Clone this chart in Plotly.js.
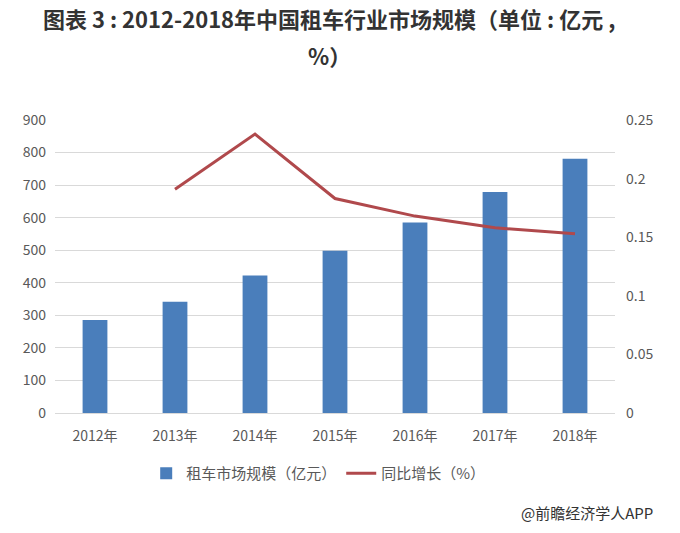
<!DOCTYPE html>
<html>
<head>
<meta charset="utf-8">
<script src="https://cdn.plot.ly/plotly-3.0.1.min.js"></script>
<style>
  html, body { margin: 0; padding: 0; background: #fff; }
  #chart { width: 680px; height: 533px; }
</style>
</head>
<body>
<div id="chart"></div>
<script>
const years = ["2012年", "2013年", "2014年", "2015年", "2016年", "2017年", "2018年"];
const marketSize = [286, 342, 422, 498, 585, 679, 781];
const growthYears = ["2013年", "2014年", "2015年", "2016年", "2017年", "2018年"];
const growthRate = [0.191, 0.238, 0.183, 0.168, 0.158, 0.153];

const titleLines = ["图表 3 : 2012-2018年中国租车行业市场规模（单位 : 亿元 ,", "%）"];

const font = '"Noto Sans CJK SC", "Liberation Sans", sans-serif';

function drawChart(id) {
    let trace1 = {
        x: years,
        y: marketSize,
        type: "bar",
        name: "租车市场规模（亿元）",
        marker: {color: "#4a7ebb"},
        width: 0.31,
    };
    let trace2 = {
        x: growthYears,
        y: growthRate,
        type: "scatter",
        mode: "lines",
        name: "同比增长（%）",
        yaxis: "y2",
        line: {color: "#b0494c", width: 3},
    };

    // title as two annotations so the line gap matches
    let titleAnn = titleLines.map(function(t, i) {
        return {
            text: "<b>" + t + "</b>",
            xref: "paper",
            yref: "paper",
            x: 0.49,
            y: i === 0 ? 1.348 : 1.222,
            xanchor: "center",
            yanchor: "middle",
            showarrow: false,
            font: {family: font, size: 22, color: "#333"},
        };
    });

    let layout = {
        width: 680,
        height: 533,
        margin: {l: 55, r: 65, t: 120, b: 120},
        paper_bgcolor: "#fff",
        plot_bgcolor: "#fff",
        font: {family: font, size: 13, color: "#595959"},
        bargap: 0.69,
        showlegend: true,
        legend: {
            orientation: "h",
            x: 0.47,
            xanchor: "center",
            y: -0.15,
            yanchor: "top",
            font: {family: font, size: 15, color: "#595959"},
            traceorder: "normal",
        },
        xaxis: {
            type: "category",
            showgrid: false,
            showline: true,
            linecolor: "#d9d9d9",
            ticks: "",
            ticklabelstandoff: 10,
            tickfont: {family: font, size: 14, color: "#595959"},
        },
        yaxis: {
            range: [0, 900],
            dtick: 100,
            showgrid: true,
            gridcolor: "#d9d9d9",
            zeroline: false,
            ticks: "",
            ticklabelstandoff: 8,
            tickfont: {family: font, size: 14, color: "#595959"},
        },
        yaxis2: {
            range: [0, 0.25],
            dtick: 0.05,
            overlaying: "y",
            side: "right",
            showgrid: false,
            zeroline: false,
            ticks: "",
            ticklabelstandoff: 10,
            tickfont: {family: font, size: 14, color: "#595959"},
        },
        annotations: titleAnn.concat([{
            text: "@前瞻经济学人APP",
            xref: "paper",
            yref: "paper",
            x: 1.071,
            y: -0.338,
            xanchor: "right",
            yanchor: "middle",
            showarrow: false,
            font: {family: font, size: 15, color: "#333"},
        }]),
    };

    Plotly.newPlot(id, [trace1, trace2], layout, {displayModeBar: false, staticPlot: true});
}

drawChart("chart");
</script>
</body>
</html>
